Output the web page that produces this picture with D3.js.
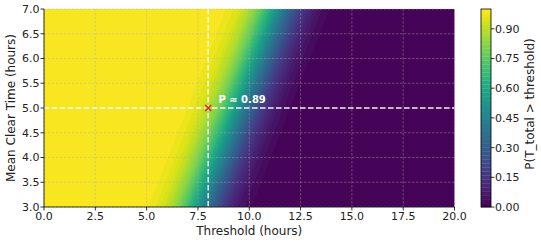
<!DOCTYPE html>
<html lang="en">
<head>
<meta charset="UTF-8">
<title>P(T_total &gt; threshold)</title>
<script src="https://cdnjs.cloudflare.com/ajax/libs/d3/7.8.5/d3.min.js"></script>
<style>
  body { margin: 0; background: #fff; }
  svg { display: block; font-family: "DejaVu Sans", sans-serif; }
</style>
</head>
<body>
<script>
// grid of the contour plot: thresholds (columns) and mean clear times (rows, top to bottom)
const thresholds = [0, 0.5, 1, 1.5, 2, 2.5, 3, 3.5, 4, 4.5, 5, 5.5, 6, 6.5, 7, 7.5, 8, 8.5, 9, 9.5,
  10, 10.5, 11, 11.5, 12, 12.5, 13, 13.5, 14, 14.5, 15, 15.5, 16, 16.5, 17, 17.5, 18, 18.5, 19, 19.5, 20];
const clearTimes = [7, 6.5, 6, 5.5, 5, 4.5, 4, 3.5, 3];

// P(T_total > threshold), one row per clear time
const probAt7 = [1, 1, 1, 1, 1, 1, 1, 1, 1, 1, 1, 1, 1, 1, 1, 1,
  0.997, 0.991, 0.976, 0.941, 0.875, 0.770, 0.629, 0.468, 0.312, 0.184, 0.095, 0.043, 0.017, 0.006, 0.002, 0.001,
  0, 0, 0, 0, 0, 0, 0, 0, 0];
const probAt6_5 = [1, 1, 1, 1, 1, 1, 1, 1, 1, 1, 1, 1, 1, 1, 1,
  0.998, 0.992, 0.977, 0.943, 0.879, 0.776, 0.637, 0.476, 0.319, 0.189, 0.099, 0.045, 0.017, 0.006, 0.002,
  0, 0, 0, 0, 0, 0, 0, 0, 0, 0, 0];
const probAt6 = [1, 1, 1, 1, 1, 1, 1, 1, 1, 1, 1, 1, 1, 1,
  0.998, 0.992, 0.978, 0.945, 0.883, 0.782, 0.644, 0.484, 0.326, 0.195, 0.102, 0.046, 0.018, 0.006, 0.002, 0.001,
  0, 0, 0, 0, 0, 0, 0, 0, 0, 0, 0];
const probAt5_5 = [1, 1, 1, 1, 1, 1, 1, 1, 1, 1, 1, 1, 1,
  0.998, 0.993, 0.979, 0.947, 0.887, 0.788, 0.652, 0.492, 0.334, 0.200, 0.106, 0.048, 0.019, 0.007, 0.002,
  0, 0, 0, 0, 0, 0, 0, 0, 0, 0, 0, 0, 0];
const probAt5 = [1, 1, 1, 1, 1, 1, 1, 1, 1, 1, 1, 1,
  0.998, 0.993, 0.980, 0.949, 0.891, 0.794, 0.659, 0.500, 0.341, 0.206, 0.109, 0.051, 0.020, 0.007, 0.002, 0.001,
  0, 0, 0, 0, 0, 0, 0, 0, 0, 0, 0, 0, 0];
const probAt4_5 = [1, 1, 1, 1, 1, 1, 1, 1, 1, 1, 1,
  0.998, 0.993, 0.981, 0.952, 0.894, 0.800, 0.666, 0.508, 0.348, 0.212, 0.113, 0.053, 0.021, 0.007, 0.002,
  0, 0, 0, 0, 0, 0, 0, 0, 0, 0, 0, 0, 0, 0, 0];
const probAt4 = [1, 1, 1, 1, 1, 1, 1, 1, 1, 1,
  0.998, 0.994, 0.982, 0.954, 0.898, 0.805, 0.674, 0.516, 0.356, 0.218, 0.117, 0.055, 0.022, 0.008, 0.002, 0.001,
  0, 0, 0, 0, 0, 0, 0, 0, 0, 0, 0, 0, 0, 0, 0];
const probAt3_5 = [1, 1, 1, 1, 1, 1, 1, 1, 1,
  0.998, 0.994, 0.983, 0.955, 0.901, 0.811, 0.681, 0.524, 0.363, 0.224, 0.121, 0.057, 0.023, 0.008, 0.002,
  0, 0, 0, 0, 0, 0, 0, 0, 0, 0, 0, 0, 0, 0, 0, 0, 0];
const probAt3 = [1, 1, 1, 1, 1, 1, 1, 1,
  0.998, 0.994, 0.983, 0.957, 0.905, 0.816, 0.688, 0.532, 0.371, 0.230, 0.125, 0.059, 0.024, 0.009, 0.003, 0.001,
  0, 0, 0, 0, 0, 0, 0, 0, 0, 0, 0, 0, 0, 0, 0, 0, 0];

const xTicks = [0, 2.5, 5, 7.5, 10, 12.5, 15, 17.5, 20];
const yTicks = [3, 3.5, 4, 4.5, 5, 5.5, 6, 6.5, 7];
const cbTicks = [0, 0.15, 0.30, 0.45, 0.60, 0.75, 0.90];

const pick = { threshold: 8, clearTime: 5, label: 'P ≈ 0.89' };

const width = 541;
const height = 242;
const PLOT = { left: 44, right: 454.5, top: 9, bottom: 207 };
const CB = { left: 481, right: 491 };

const x = d3.scaleLinear().domain([0, 20]).range([PLOT.left, PLOT.right]);
const y = d3.scaleLinear().domain([3, 7]).range([PLOT.bottom, PLOT.top]);
const cbScale = d3.scaleLinear().domain([0, 1]).range([PLOT.bottom, PLOT.top]);

const levels = d3.range(0, 0.9801, 0.02);
const bandColor = lv => d3.interpolateViridis(lv + 0.01);

const svg = d3.select('body').append('svg')
  .attr('width', width)
  .attr('height', height);

svg.append('clipPath').attr('id', 'plot-clip')
  .append('rect')
  .attr('x', PLOT.left).attr('y', PLOT.top)
  .attr('width', PLOT.right - PLOT.left).attr('height', PLOT.bottom - PLOT.top);

// contour fill
const rows = [probAt7, probAt6_5, probAt6, probAt5_5, probAt5, probAt4_5, probAt4, probAt3_5, probAt3];
const values = rows.flat();
const contours = d3.contours()
  .size([thresholds.length, clearTimes.length])
  .thresholds(levels)(values);

const tStep = thresholds[1] - thresholds[0];
const mStep = clearTimes[0] - clearTimes[1];
const toPixels = d3.geoTransform({
  point(px, py) {
    this.stream.point(
      x(thresholds[0] + (px - 0.5) * tStep),
      y(clearTimes[0] - (py - 0.5) * mStep)
    );
  }
});
const path = d3.geoPath(toPixels);

svg.append('g')
  .attr('clip-path', 'url(#plot-clip)')
  .selectAll('path')
  .data(contours)
  .join('path')
  .attr('d', path)
  .attr('fill', d => bandColor(d.value))
  .attr('stroke', d => bandColor(d.value))
  .attr('stroke-width', 0.3);

// grid
const grid = svg.append('g')
  .attr('stroke', '#b0b0b0')
  .attr('stroke-opacity', 0.5)
  .attr('stroke-width', 0.8)
  .attr('stroke-dasharray', '2.5,1.5');
grid.selectAll('.gx').data(xTicks).join('line')
  .attr('x1', d => x(d)).attr('x2', d => x(d))
  .attr('y1', PLOT.top).attr('y2', PLOT.bottom);
grid.selectAll('.gy').data(yTicks).join('line')
  .attr('y1', d => y(d)).attr('y2', d => y(d))
  .attr('x1', PLOT.left).attr('x2', PLOT.right);

// cross-hair at the picked point
const cross = svg.append('g')
  .attr('stroke', '#fff')
  .attr('stroke-opacity', 0.9)
  .attr('stroke-width', 1.5)
  .attr('stroke-dasharray', '5.5,2.5');
cross.append('line')
  .attr('x1', x(pick.threshold)).attr('x2', x(pick.threshold))
  .attr('y1', PLOT.top).attr('y2', PLOT.bottom);
cross.append('line')
  .attr('x1', PLOT.left).attr('x2', PLOT.right)
  .attr('y1', y(pick.clearTime)).attr('y2', y(pick.clearTime));

const mx = x(pick.threshold), my = y(pick.clearTime), ms = 3;
svg.append('path')
  .attr('d', `M${mx - ms},${my - ms}L${mx + ms},${my + ms}M${mx - ms},${my + ms}L${mx + ms},${my - ms}`)
  .attr('stroke', '#d62728')
  .attr('stroke-width', 1.6)
  .attr('fill', 'none');

svg.append('text')
  .attr('x', x(pick.threshold + 0.5))
  .attr('y', y(pick.clearTime + 0.1))
  .attr('fill', '#fff')
  .attr('font-weight', 'bold')
  .attr('font-size', '10px')
  .text(pick.label);

// left and bottom spines
svg.append('path')
  .attr('d', `M${PLOT.left},${PLOT.top}V${PLOT.bottom}H${PLOT.right}`)
  .attr('fill', 'none')
  .attr('stroke', '#000')
  .attr('stroke-width', 0.8);

// axes
const xAxis = svg.append('g');
xAxis.selectAll('line').data(xTicks).join('line')
  .attr('x1', d => x(d)).attr('x2', d => x(d))
  .attr('y1', PLOT.bottom).attr('y2', PLOT.bottom + 3.5)
  .attr('stroke', '#000').attr('stroke-width', 0.8);
xAxis.selectAll('text').data(xTicks).join('text')
  .attr('x', d => x(d))
  .attr('y', PLOT.bottom + 13)
  .attr('text-anchor', 'middle')
  .attr('font-size', '11px')
  .attr('fill', '#222')
  .text(d => d.toFixed(1));
svg.append('text')
  .attr('x', (PLOT.left + PLOT.right) / 2)
  .attr('y', 235)
  .attr('text-anchor', 'middle')
  .attr('font-size', '12px')
  .attr('fill', '#222')
  .text('Threshold (hours)');

const yAxis = svg.append('g');
yAxis.selectAll('line').data(yTicks).join('line')
  .attr('x1', PLOT.left - 3.5).attr('x2', PLOT.left)
  .attr('y1', d => y(d)).attr('y2', d => y(d))
  .attr('stroke', '#000').attr('stroke-width', 0.8);
yAxis.selectAll('text').data(yTicks).join('text')
  .attr('x', PLOT.left - 4.5)
  .attr('y', d => y(d))
  .attr('dy', '0.36em')
  .attr('text-anchor', 'end')
  .attr('font-size', '11px')
  .attr('fill', '#222')
  .text(d => d.toFixed(1));
svg.append('text')
  .attr('transform', `translate(15,${(PLOT.top + PLOT.bottom) / 2}) rotate(-90)`)
  .attr('text-anchor', 'middle')
  .attr('font-size', '12px')
  .attr('fill', '#222')
  .text('Mean Clear Time (hours)');

// colour bar
const cb = svg.append('g');
cb.selectAll('rect').data(levels).join('rect')
  .attr('x', CB.left)
  .attr('width', CB.right - CB.left)
  .attr('y', d => cbScale(d + 0.02))
  .attr('height', d => cbScale(d) - cbScale(d + 0.02) + 0.3)
  .attr('fill', d => bandColor(d));
cb.append('rect')
  .attr('x', CB.left).attr('y', PLOT.top)
  .attr('width', CB.right - CB.left).attr('height', PLOT.bottom - PLOT.top)
  .attr('fill', 'none').attr('stroke', '#000').attr('stroke-width', 0.8);
cb.selectAll('line').data(cbTicks).join('line')
  .attr('x1', CB.right).attr('x2', CB.right + 3.5)
  .attr('y1', d => cbScale(d)).attr('y2', d => cbScale(d))
  .attr('stroke', '#000').attr('stroke-width', 0.8);
cb.selectAll('text').data(cbTicks).join('text')
  .attr('x', CB.right + 4)
  .attr('y', d => cbScale(d))
  .attr('dy', '0.36em')
  .attr('font-size', '11px')
  .attr('fill', '#222')
  .text(d => d.toFixed(2));
svg.append('text')
  .attr('transform', `translate(534,104) rotate(-90)`)
  .attr('text-anchor', 'middle')
  .attr('font-size', '12px')
  .attr('fill', '#222')
  .text('P(T_total > threshold)');
</script>
</body>
</html>
